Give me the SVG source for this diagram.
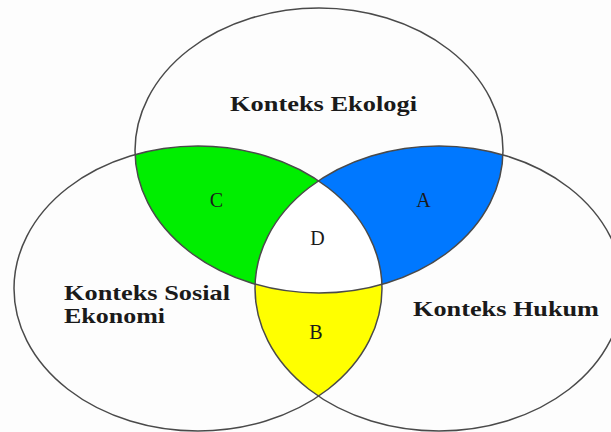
<svg xmlns="http://www.w3.org/2000/svg" width="611" height="432" viewBox="0 0 611 432">
  <style>
    .ring { fill: none; stroke: #4a4a4a; stroke-width: 1.5; }
    .title { font-family: "Liberation Serif", "Times New Roman", serif; font-weight: bold; font-size: 22px; fill: #1a1a1a; }
    .letter { font-family: "Liberation Serif", "Times New Roman", serif; font-size: 20px; fill: #1a1a1a; text-anchor: middle; }
  </style>
  <defs>
    <ellipse id="eTop" cx="319" cy="150.5" rx="184" ry="142.5"/>
    <ellipse id="eLeft" cx="198" cy="288.5" rx="184" ry="142.5"/>
    <ellipse id="eRight" cx="439" cy="288.5" rx="184" ry="142.5"/>
    <clipPath id="cTop"><use href="#eTop"/></clipPath>
    <clipPath id="cLeft"><use href="#eLeft"/></clipPath>
    <clipPath id="cRight"><use href="#eRight"/></clipPath>
  </defs>
  <rect width="611" height="432" fill="#fdfdfd"/>
  <g id="regions">
    <g clip-path="url(#cTop)"><use href="#eLeft" fill="#00ee00"/></g>
    <g clip-path="url(#cTop)"><use href="#eRight" fill="#0078ff"/></g>
    <g clip-path="url(#cLeft)"><use href="#eRight" fill="#ffff00"/></g>
    <g clip-path="url(#cTop)"><g clip-path="url(#cLeft)"><use href="#eRight" fill="#ffffff"/></g></g>
  </g>
  <g id="ekologi">
    <use href="#eTop" class="ring"/>
    <text class="title" x="230" y="111" textLength="187" lengthAdjust="spacingAndGlyphs">Konteks Ekologi</text>
  </g>
  <g id="sosial-ekonomi">
    <use href="#eLeft" class="ring"/>
    <text class="title" x="64" y="300" textLength="166" lengthAdjust="spacingAndGlyphs">Konteks Sosial</text>
    <text class="title" x="64" y="323" textLength="101" lengthAdjust="spacingAndGlyphs">Ekonomi</text>
  </g>
  <g id="hukum">
    <use href="#eRight" class="ring"/>
    <text class="title" x="413" y="316" textLength="186" lengthAdjust="spacingAndGlyphs">Konteks Hukum</text>
  </g>
  <g id="labels">
    <text class="letter" x="216.5" y="206.5">C</text>
    <text class="letter" x="423.5" y="206.5">A</text>
    <text class="letter" x="317.5" y="245">D</text>
    <text class="letter" x="316" y="339">B</text>
  </g>
</svg>
